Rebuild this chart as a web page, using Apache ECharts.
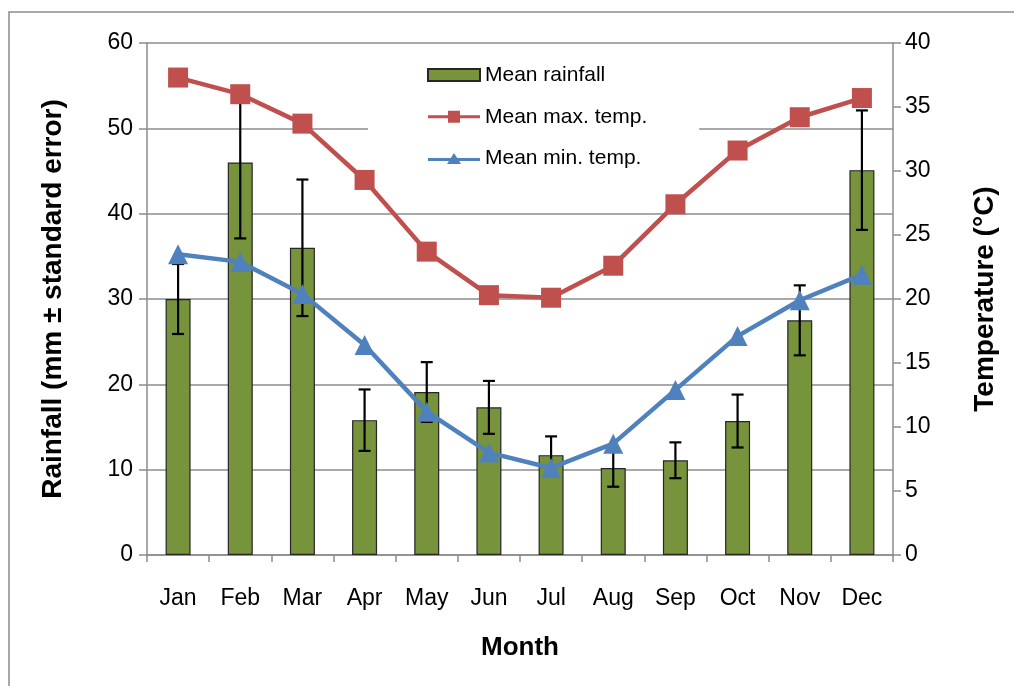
<!DOCTYPE html>
<html style="height: 100%">
<head>
    <script src="https://cdn.jsdelivr.net/npm/echarts@6/dist/echarts.min.js"></script>
</head>
<body style="height: 100%; margin: 0; background: #fff">
    <div id="main" style="width: 1014px; height: 686px"></div>
    <script type="text/javascript">
    var months = ['Jan', 'Feb', 'Mar', 'Apr', 'May', 'Jun', 'Jul', 'Aug', 'Sep', 'Oct', 'Nov', 'Dec'];
    var rainfall = [30, 46, 36, 15.8, 19.1, 17.3, 11.7, 10.2, 11.1, 15.7, 27.5, 45.1];
    var rainfallSE = [4.1, 8.9, 8, 3.6, 3.5, 3.1, 2.2, 2.2, 2.1, 3.1, 4.1, 7];
    var maxTemp = [37.3, 36.0, 33.7, 29.3, 23.7, 20.3, 20.1, 22.6, 27.4, 31.6, 34.2, 35.7];
    var minTemp = [23.5, 22.9, 20.4, 16.4, 11.2, 8.0, 6.8, 8.7, 12.9, 17.1, 19.9, 21.9];

    var errData = rainfall.map(function (v, i) {
        return [i, v - rainfallSE[i], v + rainfallSE[i]];
    });

    var font = "'Liberation Sans', Arial, sans-serif";
    var gray = '#8c8c8c';

    // legend icons: thick line with the marker in the middle
    var squareIcon = 'path://M0,4.5 L20,4.5 L20,0 L32,0 L32,4.5 L52,4.5 L52,7.5 L32,7.5 L32,12 L20,12 L20,7.5 L0,7.5 Z';
    var triIcon = 'path://M0,5 L22.8,5 L26,0 L29.2,5 L52,5 L52,8 L31.1,8 L33,11 L19,11 L20.9,8 L0,8 Z';

    var myChart = echarts.init(document.getElementById('main'));

    function renderError(params, api) {
        var lo = api.coord([api.value(0), api.value(1)]);
        var hi = api.coord([api.value(0), api.value(2)]);
        var w = 6;
        var st = { stroke: '#000', lineWidth: 2.2 };
        return {
            type: 'group',
            children: [
                { type: 'line', shape: { x1: lo[0], y1: lo[1], x2: hi[0], y2: hi[1] }, style: st },
                { type: 'line', shape: { x1: lo[0] - w, y1: lo[1], x2: lo[0] + w, y2: lo[1] }, style: st },
                { type: 'line', shape: { x1: hi[0] - w, y1: hi[1], x2: hi[0] + w, y2: hi[1] }, style: st }
            ]
        };
    }

    var option = {
        backgroundColor: '#fff',
        animation: false,
        textStyle: { fontFamily: font },
        graphic: [{
            type: 'rect',
            shape: { x: 9, y: 12, width: 1100, height: 800 },
            style: { fill: 'none', stroke: gray, lineWidth: 1.5 },
            silent: true
        }],
        legend: {
            orient: 'vertical',
            left: 368,
            top: 50,
            padding: [7, 52, 9, 59],
            backgroundColor: '#fff',
            itemWidth: 52,
            itemHeight: 12,
            itemGap: 5.5,
            textStyle: { fontSize: 21, color: '#000', fontFamily: font },
            data: [
                { name: 'Mean rainfall', icon: 'rect' },
                { name: 'Mean max. temp.', icon: squareIcon },
                { name: 'Mean min. temp.', icon: triIcon }
            ]
        },
        grid: { left: 147, right: 121, top: 43, bottom: 131, outerBoundsMode: 'none', containLabel: false },
        xAxis: {
            type: 'category',
            data: months,
            name: 'Month',
            nameLocation: 'middle',
            nameGap: 70,
            nameTextStyle: { fontSize: 26, fontWeight: 'bold', color: '#000' },
            axisLine: { lineStyle: { color: gray, width: 1.5 } },
            axisTick: { show: true, length: 7, lineStyle: { color: gray, width: 1.5 } },
            axisLabel: { fontSize: 23, color: '#000', margin: 24 }
        },
        yAxis: [{
            type: 'value',
            min: 0, max: 60, interval: 10,
            name: 'Rainfall (mm \u00b1 standard error)',
            nameLocation: 'middle',
            nameGap: 70,
            nameRotate: 90,
            nameTextStyle: { fontSize: 28, fontWeight: 'bold', color: '#000' },
            axisLine: { show: true, lineStyle: { color: gray, width: 1.5 } },
            axisTick: { show: true, length: 8, lineStyle: { color: gray, width: 1.5 } },
            axisLabel: { fontSize: 23, color: '#000', margin: 14 },
            splitLine: { lineStyle: { color: gray, width: 1.5 } }
        }, {
            type: 'value',
            min: 0, max: 40, interval: 5,
            name: 'Temperature (\u00b0C)',
            nameLocation: 'middle',
            nameGap: 68,
            nameRotate: 90,
            nameTextStyle: { fontSize: 28, fontWeight: 'bold', color: '#000' },
            axisLine: { show: true, lineStyle: { color: gray, width: 1.5 } },
            axisTick: { show: true, length: 8, lineStyle: { color: gray, width: 1.5 } },
            axisLabel: { fontSize: 23, color: '#000', margin: 12 },
            splitLine: { show: false }
        }],
        series: [
            {
                name: 'Mean rainfall',
                type: 'bar',
                barWidth: 25,
                yAxisIndex: 0,
                z: 2,
                itemStyle: { color: '#77933C', borderColor: '#262626', borderWidth: 1.2 },
                data: rainfall
            },
            {
                name: 'SE',
                type: 'custom',
                yAxisIndex: 0,
                z: 3,
                renderItem: renderError,
                encode: { x: 0, y: [1, 2] },
                data: errData
            },
            {
                name: 'Mean max. temp.',
                type: 'line',
                yAxisIndex: 1,
                z: 4,
                symbol: 'rect',
                symbolSize: 20,
                lineStyle: { color: '#C0504D', width: 4.5 },
                itemStyle: { color: '#C0504D' },
                data: maxTemp
            },
            {
                name: 'Mean min. temp.',
                type: 'line',
                yAxisIndex: 1,
                z: 4,
                symbol: 'triangle',
                symbolSize: 20,
                lineStyle: { color: '#4F81BD', width: 4.5 },
                itemStyle: { color: '#4F81BD' },
                data: minTemp
            }
        ]
    };

    myChart.setOption(option);
    </script>
</body>
</html>
